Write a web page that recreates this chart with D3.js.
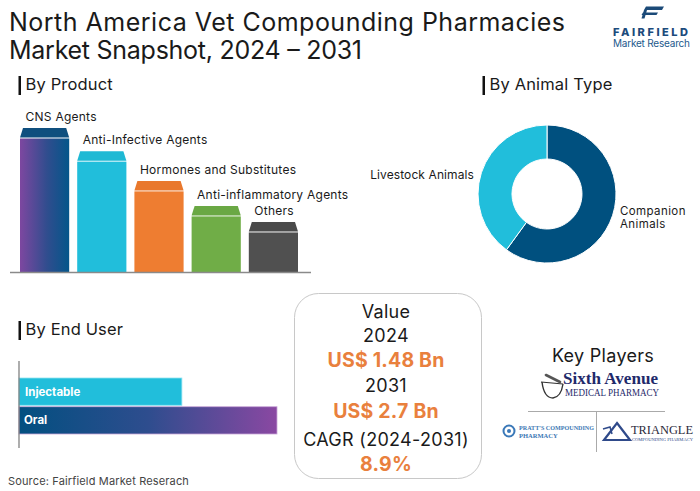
<!DOCTYPE html>
<html>
<head>
<meta charset="utf-8">
<script src="https://cdn.jsdelivr.net/npm/d3@7"></script>
<style>
  html, body { margin: 0; padding: 0; background: #fff; }
  svg { display: block; }
  text { font-family: "Inter", "Open Sans", sans-serif; }
</style>
</head>
<body>
<svg id="chart" width="700" height="491"></svg>
<script>
// ---------- DATA ----------
const productCategories = ["CNS Agents", "Anti-Infective Agents", "Hormones and Substitutes", "Anti-inflammatory Agents", "Others"];
const productShares = [30.5, 25.6, 19.3, 14.0, 10.6];
const productColors = ["#0b5183", "#21bedb", "#ee7d31", "#70ad47", "#505050"];
const productCapColors = ["#0f4f7e", "#1fb9d4", "#e9782d", "#6aa844", "#4a4a4a"];

const animalTypes = ["Companion Animals", "Livestock Animals"];
const animalShares = [60, 40];
const animalColors = ["#00507f", "#21bedb"];

const endUsers = ["Injectable", "Oral"];
const endUserShares = [38.7, 61.3];

const valueLines = ["Value", "2024", "US$ 1.48 Bn", "2031", "US$ 2.7 Bn", "CAGR (2024-2031)", "8.9%"];
const valueHighlight = [false, false, true, false, true, false, true];

const keyPlayers = ["Sixth Avenue Medical Pharmacy", "Pratt's Compounding Pharmacy", "Triangle Compounding Pharmacy"];

// ---------- SVG ----------
const svg = d3.select("#chart");
const defs = svg.append("defs");

// Title
const title = svg.append("text").attr("fill", "#1a1a1a")
  .style("font-size", "25px").style("font-weight", 400);
title.append("tspan").attr("x", 9).attr("y", 31).attr("textLength", 556).attr("lengthAdjust", "spacing")
  .text("North America Vet Compounding Pharmacies");
title.append("tspan").attr("x", 9).attr("y", 59).attr("textLength", 353).attr("lengthAdjust", "spacing")
  .text("Market Snapshot, 2024 \u2013 2031");

// Fairfield logo
const logo = svg.append("g");
logo.append("path").attr("d", "M646,6.5 L664,6.5 L662,10 L644,10 Z").attr("fill", "#1b4a78");
logo.append("path").attr("d", "M643,12.5 L658,12.5 L656.5,15 L641.5,15 Z").attr("fill", "#1b4a78");
logo.append("path").attr("d", "M644,10 L647,10 L644.5,18.5 L641.5,18.5 Z").attr("fill", "#1b4a78");
logo.append("text").attr("x", 613).attr("y", 35.5)
  .attr("fill", "#1c4b7c").style("font-size", "11px").style("font-weight", 800)
  .attr("textLength", 75).attr("lengthAdjust", "spacing").text("FAIRFIELD");
logo.append("text").attr("x", 613).attr("y", 47).attr("fill", "#22598c").style("font-size", "10px")
  .attr("textLength", 77).attr("lengthAdjust", "spacing").text("Market Research");

// Section header helper
function sectionHeader(x, y, label) {
  svg.append("rect").attr("x", x).attr("y", y - 14).attr("width", 2.5).attr("height", 19).attr("fill", "#111");
  svg.append("text").attr("x", x + 7).attr("y", y).attr("fill", "#1a1a1a")
    .style("font-size", "16.5px").style("letter-spacing", "0.15px").text(label);
}
sectionHeader(18.5, 90, "By Product");
sectionHeader(482.5, 90, "By Animal Type");
sectionHeader(18.5, 335, "By End User");

// ---------- BY PRODUCT ----------
const baseY = 272;
const xP = d3.scaleBand().domain(productCategories).range([20, 298]).paddingInner(0.14);
const yP = d3.scaleLinear().domain([0, d3.max(productShares)]).range([baseY, 128]);

const cnsGrad = defs.append("linearGradient").attr("id", "cnsGrad").attr("x1", "0").attr("x2", "1").attr("y1", "0").attr("y2", "0");
cnsGrad.append("stop").attr("offset", "0%").attr("stop-color", "#7d47a0");
cnsGrad.append("stop").attr("offset", "55%").attr("stop-color", "#304d8e");
cnsGrad.append("stop").attr("offset", "100%").attr("stop-color", "#03568a");

const capH = 9.5, inset = 3;
const pg = svg.append("g");
productCategories.forEach((c, i) => {
  const x0 = xP(c), w = xP.bandwidth(), yt = yP(productShares[i]);
  pg.append("path")
    .attr("d", `M${x0},${yt + capH} L${x0 + inset},${yt} L${x0 + w - inset},${yt} L${x0 + w},${yt + capH} Z`)
    .attr("fill", productCapColors[i]);
  pg.append("rect").attr("x", x0).attr("y", yt + capH + 1).attr("width", w)
    .attr("height", baseY - (yt + capH + 1))
    .attr("fill", i === 0 ? "url(#cnsGrad)" : productColors[i]);
  pg.append("text").attr("x", x0 + 5.5).attr("y", yt - 7).attr("fill", "#1a1a1a")
    .style("font-size", "12px").style("letter-spacing", "0.25px").text(c);
});
pg.append("line").attr("x1", 10).attr("x2", 311).attr("y1", baseY + 0.5).attr("y2", baseY + 0.5)
  .attr("stroke", "#8a8a8a").attr("stroke-width", 1.5);

// ---------- BY ANIMAL TYPE ----------
const cx = 547, cy = 194, rO = 69, rI = 35;
const pie = d3.pie().sort(null).value(d => d)(animalShares);
const arc = d3.arc().innerRadius(rI).outerRadius(rO);
const ag = svg.append("g").attr("transform", `translate(${cx},${cy})`);
ag.selectAll("path").data(pie).join("path")
  .attr("d", arc).attr("fill", (d, i) => animalColors[i])
  .attr("stroke", "#fff").attr("stroke-width", 1);
svg.append("text").attr("x", 474).attr("y", 179).attr("text-anchor", "end").attr("fill", "#1a1a1a")
  .style("font-size", "12px").style("letter-spacing", "0.1px").text(animalTypes[1]);
const compLbl = svg.append("text").attr("fill", "#1a1a1a").style("font-size", "11.5px").style("letter-spacing", "0.4px");
compLbl.append("tspan").attr("x", 620).attr("y", 215).text(animalTypes[0].split(" ")[0]);
compLbl.append("tspan").attr("x", 620).attr("y", 228).text(animalTypes[0].split(" ")[1]);

// ---------- BY END USER ----------
const oralGrad = defs.append("linearGradient").attr("id", "oralGrad").attr("x1", "0").attr("x2", "1").attr("y1", "0").attr("y2", "0");
oralGrad.append("stop").attr("offset", "0%").attr("stop-color", "#024f80");
oralGrad.append("stop").attr("offset", "50%").attr("stop-color", "#2e4d8e");
oralGrad.append("stop").attr("offset", "100%").attr("stop-color", "#8a48a2");

const xE = d3.scaleLinear().domain([0, d3.max(endUserShares)]).range([19, 277]);
const yE = d3.scaleBand().domain(endUsers).range([378, 434]).paddingInner(0.05);
const eg = svg.append("g");
endUsers.forEach((u, i) => {
  eg.append("rect").attr("x", xE(0)).attr("y", yE(u)).attr("width", xE(endUserShares[i]) - xE(0))
    .attr("height", yE.bandwidth())
    .attr("fill", i === 0 ? "#21bedb" : "url(#oralGrad)")
    .attr("stroke", i === 0 ? "#8fe3f1" : "#c9a6d8").attr("stroke-width", 0.8);
  eg.append("text").attr("x", xE(0) + (i === 0 ? 6 : 5)).attr("y", yE(u) + yE.bandwidth() / 2 + 4)
    .attr("fill", "#fff").style("font-size", "11.5px").style("font-weight", 700).text(u);
});
eg.append("line").attr("x1", 19).attr("x2", 19).attr("y1", 361).attr("y2", 448)
  .attr("stroke", "#777").attr("stroke-width", 1.2);

// Source
svg.append("text").attr("x", 8).attr("y", 485).attr("fill", "#444")
  .style("font-size", "11px").style("letter-spacing", "0.15px").text("Source: Fairfield Market Reserach");

// ---------- VALUE BOX ----------
svg.append("rect").attr("x", 294.5).attr("y", 293.5).attr("width", 187).attr("height", 185)
  .attr("rx", 24).attr("fill", "#fff").attr("stroke", "#c8c8c8").attr("stroke-width", 1);
const vY = [318, 342, 367, 392, 418, 446, 471];
valueLines.forEach((t, i) => {
  svg.append("text").attr("x", 386).attr("y", vY[i]).attr("text-anchor", "middle")
    .attr("fill", valueHighlight[i] ? "#e9803d" : "#1a1a1a")
    .style("font-size", valueHighlight[i] ? "19.5px" : "18px")
    .style("letter-spacing", valueHighlight[i] ? "0.2px" : "0.3px")
    .style("font-weight", valueHighlight[i] ? 700 : 400).text(t);
});

// ---------- KEY PLAYERS ----------
svg.append("text").attr("x", 603).attr("y", 362).attr("text-anchor", "middle").attr("fill", "#1a1a1a")
  .style("font-size", "18px").style("letter-spacing", "0.3px").text("Key Players");

const kp = svg.append("g");
// Sixth Avenue logo (mortar icon)
kp.append("path").attr("d", "M542,382 Q544,398 553,398 Q561,397 563,384").attr("fill", "none").attr("stroke", "#333").attr("stroke-width", 1.4);
kp.append("path").attr("d", "M541,382 L563,384").attr("stroke", "#333").attr("stroke-width", 1.2);
kp.append("path").attr("d", "M546,375 L560,382").attr("stroke", "#555").attr("stroke-width", 2.6).attr("stroke-linecap", "round");
kp.append("text").attr("x", 563).attr("y", 384).attr("fill", "#1f2a6b")
  .style("font-family", "'Liberation Serif', serif").style("font-size", "16px").style("font-weight", 700)
  .attr("textLength", 95).attr("lengthAdjust", "spacingAndGlyphs").text("Sixth Avenue");
kp.append("text").attr("x", 565).attr("y", 396).attr("fill", "#1f2a6b")
  .style("font-family", "'Liberation Serif', serif").style("font-size", "9.5px")
  .attr("textLength", 94).attr("lengthAdjust", "spacingAndGlyphs")
  .text("MEDICAL PHARMACY");
kp.append("line").attr("x1", 528).attr("x2", 665).attr("y1", 411.5).attr("y2", 411.5).attr("stroke", "#aaa");
kp.append("line").attr("x1", 596.5).attr("x2", 596.5).attr("y1", 411.5).attr("y2", 452).attr("stroke", "#aaa");
// Pratt's
kp.append("circle").attr("cx", 509).attr("cy", 431).attr("r", 5.5).attr("fill", "none").attr("stroke", "#3a78b8").attr("stroke-width", 2);
kp.append("circle").attr("cx", 509).attr("cy", 431).attr("r", 2).attr("fill", "#3a78b8");
const pr = kp.append("text").attr("fill", "#3c78b4")
  .style("font-family", "'Liberation Serif', serif").style("font-size", "6.5px").style("font-weight", 700);
pr.append("tspan").attr("x", 519).attr("y", 430).attr("textLength", 75).attr("lengthAdjust", "spacingAndGlyphs").text("PRATT'S COMPOUNDING");
pr.append("tspan").attr("x", 519).attr("y", 437.5).text("PHARMACY");
// Triangle
kp.append("path").attr("d", "M617,423 L630,440 L604,440 Z").attr("fill", "none").attr("stroke", "#2f4a8a").attr("stroke-width", 2.2);
kp.append("path").attr("d", "M603,429 L610,427 L612,434").attr("fill", "none").attr("stroke", "#2f4a8a").attr("stroke-width", 1.5);
kp.append("text").attr("x", 631).attr("y", 433.5).attr("fill", "#2a2a3a")
  .style("font-family", "'Liberation Serif', serif").style("font-size", "13px")
  .attr("textLength", 62).attr("lengthAdjust", "spacingAndGlyphs").text("TRIANGLE");
kp.append("text").attr("x", 632).attr("y", 441).attr("fill", "#2f4a8a")
  .style("font-family", "'Liberation Serif', serif").style("font-size", "4px")
  .attr("textLength", 61).attr("lengthAdjust", "spacingAndGlyphs").text("COMPOUNDING PHARMACY");
</script>
</body>
</html>
